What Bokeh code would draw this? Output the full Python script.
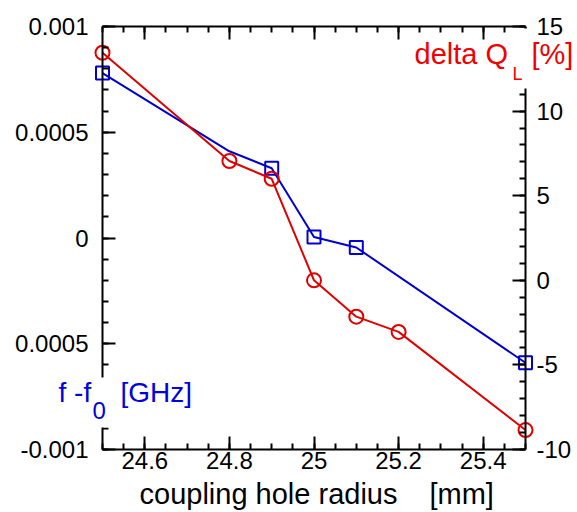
import numpy as np
from bokeh.plotting import figure
from bokeh.models import (Range1d, LinearAxis, FixedTicker, ColumnDataSource,
                          CDSView, BooleanFilter, Label, CustomJSTickFormatter,
                          BoxAnnotation)
from bokeh.embed import file_html
from bokeh.resources import INLINE

# ---- data ----
radius_f = [24.5, 24.8, 24.9, 25.0, 25.1, 25.5]
df_ghz = [0.00078, 0.00041, 0.00033, 0.000005, -0.000045, -0.00059]
df_marker = [True, False, True, True, True, True]

radius_q = [24.5, 24.8, 24.9, 25.0, 25.1, 25.2, 25.5]
dq_pct = [13.45, 7.05, 6.0, 0.0, -2.15, -3.05, -8.85]

x_ticks = [24.6, 24.8, 25.0, 25.2, 25.4]
x_tick_labels = ["24.6", "24.8", "25", "25.2", "25.4"]
yl_ticks = [-0.001, -0.0005, 0.0, 0.0005, 0.001]
yl_tick_labels = ["-0.001", "0.0005", "0", "0.0005", "0.001"]
yr_ticks = [-10, -5, 0, 5, 10, 15]
yr_tick_labels = ["-10", "-5", "0", "5", "10", "15"]

X_LIM = (24.5, 25.5)
YL_LIM = (-0.001, 0.001)
YR_LIM = (-10, 15)

FONT = "Liberation Sans"
RED = "#e00000"
BLUE = "#0000d0"
RED_TXT = "#f00000"
BLUE_TXT = "#0000e0"

W, H = 577, 512
# plot box inside the canvas (pixels): left, right, top, bottom
FL, FR, FT, FB = 102, 525, 26, 449


def padded(lo, hi, px_lo, px_hi, size):
    span = (hi - lo) / (px_hi - px_lo)
    return Range1d(lo - px_lo * span, hi + (size - px_hi) * span)


def x_at(px):
    return X_LIM[0] + (px - FL) * (X_LIM[1] - X_LIM[0]) / (FR - FL)


def yl_at(py):
    return YL_LIM[1] - (py - FT) * (YL_LIM[1] - YL_LIM[0]) / (FB - FT)


x_rng = padded(X_LIM[0], X_LIM[1], FL, FR, W)
yl_rng = padded(YL_LIM[0], YL_LIM[1], H - FB, H - FT, H)
yr_rng = padded(YR_LIM[0], YR_LIM[1], H - FB, H - FT, H)

p = figure(width=W, height=H, output_backend="svg", toolbar_location=None,
           x_range=x_rng, y_range=yl_rng,
           x_axis_location=None, y_axis_location=None, min_border=0)
p.extra_y_ranges = {"q": yr_rng}
p.outline_line_color = None
p.xgrid.visible = False
p.ygrid.visible = False
p.background_fill_color = "white"
p.border_fill_color = "white"


def style(ax):
    ax.axis_line_color = "black"
    ax.axis_line_width = 2
    ax.major_tick_line_color = "black"
    ax.minor_tick_line_color = "black"
    ax.major_tick_line_width = 2
    ax.minor_tick_line_width = 2
    ax.major_tick_in = 13
    ax.major_tick_out = 0
    ax.minor_tick_in = 6
    ax.minor_tick_out = 0
    ax.major_label_text_font = FONT
    ax.major_label_text_font_size = "24px"
    ax.major_label_text_color = "black"


x_minor = [round(v, 2) for v in np.arange(24.5, 25.5001, 0.05)]
yl_minor = [round(v, 5) for v in np.arange(-0.001, 0.00100001, 0.0001)]
yr_minor = [int(v) for v in np.arange(-10, 16, 1)]

bottom = LinearAxis(ticker=FixedTicker(ticks=x_ticks, minor_ticks=x_minor),
                    major_label_overrides=dict(zip(x_ticks, x_tick_labels)),
                    fixed_location=YL_LIM[0], bounds=X_LIM)
style(bottom)
bottom.major_label_standoff = 2
p.add_layout(bottom, "below")

top = LinearAxis(ticker=FixedTicker(ticks=x_ticks, minor_ticks=x_minor),
                 formatter=CustomJSTickFormatter(code="return ''"),
                 fixed_location=YL_LIM[1], bounds=X_LIM)
style(top)
top.major_label_text_color = None
top.major_label_standoff = 0
p.add_layout(top, "above")

left = LinearAxis(ticker=FixedTicker(ticks=yl_ticks, minor_ticks=yl_minor),
                  major_label_overrides=dict(zip(yl_ticks, yl_tick_labels)),
                  fixed_location=X_LIM[0], bounds=YL_LIM)
style(left)
left.major_label_standoff = 14
p.add_layout(left, "left")

right = LinearAxis(y_range_name="q", ticker=FixedTicker(ticks=yr_ticks, minor_ticks=yr_minor),
                   major_label_overrides=dict(zip(yr_ticks, yr_tick_labels)),
                   fixed_location=X_LIM[1], bounds=YR_LIM)
style(right)
right.major_label_standoff = 11
p.add_layout(right, "right")

# ---- series ----
src_f = ColumnDataSource(dict(x=radius_f, y=df_ghz))
p.line("x", "y", source=src_f, line_color=BLUE, line_width=2)
p.scatter("x", "y", source=src_f, view=CDSView(filter=BooleanFilter(df_marker)),
          marker="square", size=13, fill_color=None, line_color=BLUE, line_width=2)

src_q = ColumnDataSource(dict(x=radius_q, y=dq_pct))
p.line("x", "y", source=src_q, y_range_name="q", line_color=RED, line_width=2)
p.scatter("x", "y", source=src_q, y_range_name="q", marker="circle", size=14,
          fill_color=None, line_color=RED, line_width=2)

# ---- gaps in the axis lines behind the axis titles ----
for (l_px, r_px, t_px, b_px) in [(96, 111, 377, 427), (517, 529, 28, 88)]:
    p.add_layout(BoxAnnotation(left=x_at(l_px), right=x_at(r_px), top=yl_at(t_px),
                               bottom=yl_at(b_px), fill_color="white", fill_alpha=1.0,
                               line_color=None, line_alpha=0, level="overlay"))


# ---- axis titles (x from canvas left, y from canvas bottom) ----
def lab(text, x, y, size, color):
    p.add_layout(Label(x=x, y=y, x_units="screen", y_units="screen", text=text,
                       text_font=FONT, text_font_size=size, text_color=color,
                       text_baseline="alphabetic", text_align="left", level="overlay"))


lab("coupling hole radius", 139, 19, "29px", "black")
lab("[mm]", 429, 19, "29px", "black")

lab("f -f", 58, 120, "28px", BLUE_TXT)
lab("0", 92, 102, "24px", BLUE_TXT)
lab("[GHz]", 120, 120, "28px", BLUE_TXT)

lab("delta Q", 414, 459, "29px", RED_TXT)
lab("L", 512, 439, "18px", RED_TXT)
lab("[%]", 531, 459, "29px", RED_TXT)

open("out.html", "w").write(file_html(p, INLINE))
